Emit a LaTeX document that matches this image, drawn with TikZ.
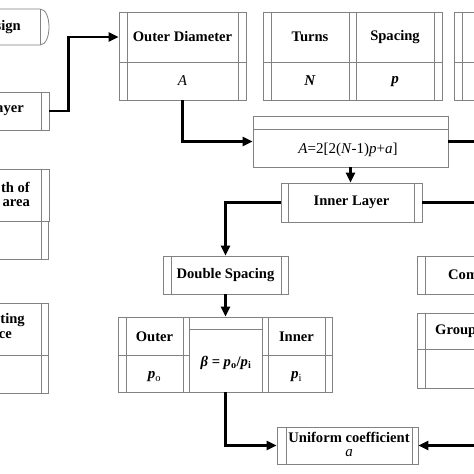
\documentclass[tikz,border=0pt]{standalone}
\usepackage{fontspec}
\setmainfont{Liberation Serif}
\usetikzlibrary{arrows.meta,calc}
\definecolor{lgray}{RGB}{130,130,130}
\begin{document}
\begin{tikzpicture}[x=1pt,y=-1pt,
  cell/.style={draw=lgray, line width=0.8pt, inner sep=0pt},
  cline/.style={draw=lgray, line width=0.8pt},
  txt/.style={font=\fontsize{14.6}{16}\selectfont\bfseries, inner sep=0pt},
  mtxt/.style={font=\fontsize{15}{16}\selectfont, inner sep=0pt},
  arr/.style={line width=2.6pt, -{Triangle[length=10pt,width=9pt]}},
  conn/.style={line width=2.6pt}]
\useasboundingbox (0,0) rectangle (474,474);
\clip (0,0) rectangle (474,474);
\fill[white] (0,0) rectangle (474,474);

% top-left partial terminal box
\draw[cline] (-5,9) -- (40,9) .. controls (52,9) and (52,45) .. (40,45) -- (-5,45);
\draw[cline] (40,9) -- (40,45);
\node[txt, anchor=east] (sg) at (21,27) {sign};

% left partial boxes
\node[cell, minimum width=98pt, minimum height=38pt] (ol) at (0,111) {};
\draw[cline] (41,92) -- (41,130);
\node[txt, anchor=east] (olt) at (24,111) {ayer};

\node[cell, minimum width=98pt, minimum height=52pt] (la) at (0,195) {};
\node[cell, minimum width=96pt, minimum height=38pt] (lb) at (0,240) {};
\draw[cline] (41,169) -- (41,259);
\node[txt, anchor=east] (lat1) at (30,187) {th of};
\node[txt, anchor=east] (lat2) at (30,203) {area};

\node[cell, minimum width=96pt, minimum height=52pt] (ca) at (0,329) {};
\node[cell, minimum width=96pt, minimum height=38pt] (cb) at (0,374) {};
\draw[cline] (41,303) -- (41,393);
\node[txt, anchor=east] (cat1) at (25,320) {ting};
\node[txt, anchor=east] (cat2) at (12,335) {ce};

% Outer Diameter
\node[cell, txt, minimum width=127pt, minimum height=50pt] (odT) at (182.5,37) {Outer Diameter};
\node[cell, mtxt, minimum width=127pt, minimum height=38pt] (odB) at (182.5,81) {\textit{A}};
\draw[cline] (127,12) -- (127,100) (238,12) -- (238,100);

% Turns / Spacing
\node[cell, minimum width=179pt, minimum height=88pt] (tsbox) at (352.5,56) {};
\draw[cline] (263,62) -- (442,62);
\draw[cline] (271,12) -- (271,100) (349,12) -- (349,100) (356,12) -- (356,100) (434,12) -- (434,100);
\node[txt] (turns) at (310,37) {Turns};
\node[mtxt] (turnsN) at (310,81) {\textbf{\textit{N}}};
\node[txt] (spacing) at (395,37) {Spacing};
\node[mtxt] (spacingp) at (395,82) {\textbf{\textit{p}}};

% top-right partial box
\node[cell, minimum width=40pt, minimum height=88pt] (trbox) at (474,56) {};
\draw[cline] (462,12) -- (462,100) (454,62) -- (474,62);

% formula box
\node[cell, minimum width=195pt, minimum height=51pt] (fbox) at (350.5,141.5) {};
\draw[cline] (253,129) -- (448,129);
\node[mtxt] (ftext) at (348,150) {\textit{A}=2[2(\textit{N}-1)\textit{p}+\textit{a}]};

% Inner Layer
\node[cell, txt, minimum width=141pt, minimum height=39pt] (il) at (351.5,202.5) {Inner Layer};
\draw[cline] (288,183) -- (288,222) (414,183) -- (414,222);

% Double Spacing
\node[cell, txt, minimum width=125pt, minimum height=38pt] (ds) at (225.5,275) {Double Spacing};
\draw[cline] (171,256) -- (171,294) (281,256) -- (281,294);

% Outer / beta / Inner
\node[cell, minimum width=71pt, minimum height=75pt] (ob) at (153.5,354.5) {};
\draw[cline] (126,317) -- (126,392) (183,317) -- (183,392) (118,355) -- (189,355);
\node[txt] (obt) at (154.5,337) {Outer};
\node[mtxt] (obp) at (154.5,377) {\textbf{\textit{p}}\textsubscript{o}};

\node[cell, minimum width=73pt, minimum height=75pt] (bt) at (225.5,354.5) {};
\draw[cline] (189,329) -- (262,329);
\node[txt] (btt) at (226,363) {\textit{β} = \textit{p}\textsubscript{o}/\textit{p}\textsubscript{i}};

\node[cell, minimum width=70pt, minimum height=75pt] (ib) at (297,354.5) {};
\draw[cline] (268,317) -- (268,392) (325,317) -- (325,392) (262,355) -- (332,355);
\node[txt] (ibt) at (296.5,337) {Inner};
\node[mtxt] (ibp) at (296.5,377) {\textbf{\textit{p}}\textsubscript{i}};

% Uniform coefficient
\node[cell, minimum width=141pt, minimum height=37pt] (uc) at (347.5,445.5) {};
\draw[cline] (286,427) -- (286,464) (412,427) -- (412,464);
\node[txt] (uct) at (349,437) {Uniform coefficient};
\node[mtxt] (uca) at (349,453) {\textit{a}};

% right partial boxes
\node[cell, minimum width=114pt, minimum height=38pt] (cm) at (474,275) {};
\draw[cline] (425,256) -- (425,294);
\node[txt, anchor=west] (cmt) at (448,275) {Com};
\node[cell, minimum width=114pt, minimum height=75pt] (gp) at (474,350.5) {};
\draw[cline] (425,313) -- (425,388) (417,349) -- (474,349);
\node[txt, anchor=west] (gpt) at (435,331) {Group};

% connectors
\coordinate (r1) at (474,141.5);
\coordinate (r2) at (474,202.5);
\coordinate (r3) at (474,445.5);
\draw[arr] (ol.east) -- ++(19,0) |- (odT.west);
\draw[arr] (odB.south) |- (fbox.west);
\draw[conn] (fbox.east) -- (r1);
\draw[arr] (fbox.south) -- (fbox.south |- il.north);
\draw[conn] (il.east) -- (r2);
\draw[arr] (il.west) -| (ds.north);
\draw[arr] (ds.south) -- (bt.north);
\draw[arr] (bt.south) |- (uc.west);
\draw[arr] (r3) -- (uc.east);
\end{tikzpicture}
\end{document}
